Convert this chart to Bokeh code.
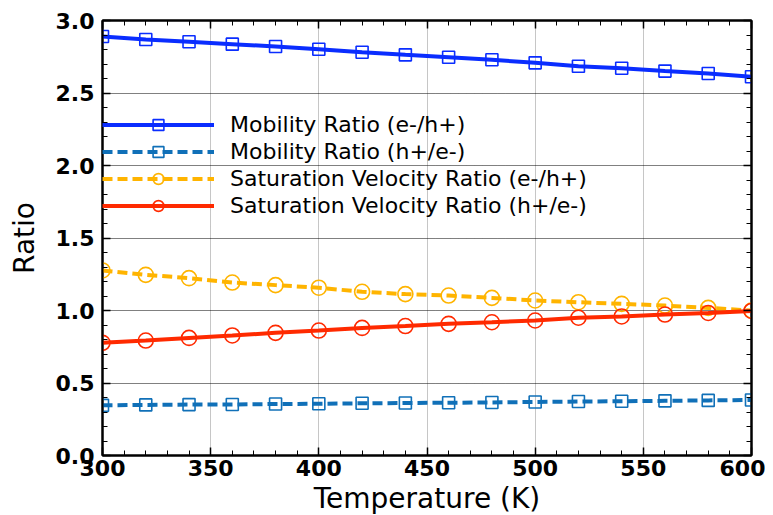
from bokeh.plotting import figure
from bokeh.models import (LinearAxis, SingleIntervalTicker, Range1d, Legend, LegendItem,
                          NumeralTickFormatter, CustomJSTickFormatter)
from bokeh.embed import file_html
from bokeh.resources import INLINE

temps = [300, 320, 340, 360, 380, 400, 420, 440, 460, 480, 500, 520, 540, 560, 580, 600]
mob_eh = [2.890, 2.869, 2.853, 2.837, 2.821, 2.802, 2.781, 2.763, 2.747, 2.729, 2.708, 2.685, 2.671, 2.651, 2.634, 2.612]
mob_he = [0.346, 0.349, 0.351, 0.352, 0.355, 0.357, 0.360, 0.362, 0.364, 0.366, 0.369, 0.372, 0.374, 0.377, 0.380, 0.383]
sat_eh = [1.276, 1.246, 1.223, 1.193, 1.175, 1.157, 1.129, 1.113, 1.103, 1.087, 1.069, 1.057, 1.046, 1.034, 1.018, 1.000]
sat_he = [0.777, 0.793, 0.811, 0.828, 0.846, 0.862, 0.880, 0.893, 0.908, 0.919, 0.931, 0.950, 0.959, 0.972, 0.983, 0.997]

labels = ["Mobility Ratio (e-/h+)", "Mobility Ratio (h+/e-)",
          "Saturation Velocity Ratio (e-/h+)", "Saturation Velocity Ratio (h+/e-)"]
x_label = "Temperature (K)"
y_label = "Ratio"

FONT = "DejaVu Sans"

p = figure(output_backend="svg", toolbar_location=None,
           frame_width=649, frame_height=435,
           min_border_left=102, min_border_top=20, min_border_right=14, min_border_bottom=52,
           x_range=Range1d(300, 600), y_range=Range1d(0, 3.0),
           x_axis_location=None, y_axis_location=None,
           background_fill_color="white", border_fill_color="white")
p.outline_line_color = "black"
p.outline_line_width = 2

xt = SingleIntervalTicker(interval=50, num_minor_ticks=5)
yt = SingleIntervalTicker(interval=0.5, num_minor_ticks=5)
blank = CustomJSTickFormatter(code="return '';")

bottom = LinearAxis(ticker=xt, axis_label=x_label)
left = LinearAxis(ticker=yt, axis_label=y_label, formatter=NumeralTickFormatter(format="0.0"))
top = LinearAxis(ticker=xt, formatter=blank)
right = LinearAxis(ticker=yt, formatter=blank)
p.add_layout(bottom, "below")
p.add_layout(left, "left")
p.add_layout(top, "above")
p.add_layout(right, "right")

for ax in [bottom, left, top, right]:
    ax.axis_line_color = "black"
    ax.axis_line_width = 2
    ax.major_tick_in = 8
    ax.major_tick_out = 0
    ax.minor_tick_in = 5
    ax.minor_tick_out = 0
    ax.major_tick_line_color = "black"
    ax.minor_tick_line_color = "black"
    ax.major_tick_line_width = 1.5
    ax.minor_tick_line_width = 1
    ax.major_label_text_font = FONT
    ax.major_label_text_font_style = "bold"
    ax.major_label_text_color = "black"
    ax.major_label_text_font_size = "22px"

bottom.major_label_standoff = 4
left.major_label_standoff = 8
top.major_label_standoff = 0
right.major_label_standoff = 0

for ax in [bottom, left]:
    ax.axis_label_text_font = FONT
    ax.axis_label_text_font_style = "normal"
    ax.axis_label_text_font_size = "28px"
    ax.axis_label_text_color = "black"
bottom.axis_label_standoff = 3
left.axis_label_standoff = 12

p.xgrid.grid_line_color = "#8c8c8c"
p.xgrid.grid_line_dash = "1 1"
p.xgrid.grid_line_width = 1
p.ygrid.grid_line_color = "black"
p.ygrid.grid_line_dash = "1 1"
p.ygrid.grid_line_width = 1
p.xgrid.ticker = xt
p.ygrid.ticker = yt

series = [
    (mob_eh, "#0a2dff", "solid", "square", 12),
    (mob_he, "#1070b8", "10 5", "square", 12),
    (sat_eh, "#ffb400", "10 5", "circle", 15),
    (sat_he, "#ff2a00", "solid", "circle", 15),
]

items = []
for (ys, color, dash, marker, size), lab in zip(series, labels):
    r1 = p.line(temps, ys, line_color=color, line_width=4, line_dash=dash)
    r2 = p.scatter(temps, ys, marker=marker, size=size, line_color=color,
                   line_width=1.6, fill_color=None)
    items.append(LegendItem(label=lab, renderers=[r1, r2]))

legend = Legend(items=items, location=(0, 236), orientation="vertical")
legend.background_fill_alpha = 0
legend.border_line_color = None
legend.padding = 0
legend.margin = 0
legend.spacing = 0
legend.glyph_width = 112
legend.glyph_height = 27
legend.label_height = 27
legend.label_standoff = 16
legend.label_text_font = FONT
legend.label_text_font_size = "22px"
legend.label_text_color = "black"
p.add_layout(legend, "center")

open("out.html", "w").write(file_html(p, INLINE))
